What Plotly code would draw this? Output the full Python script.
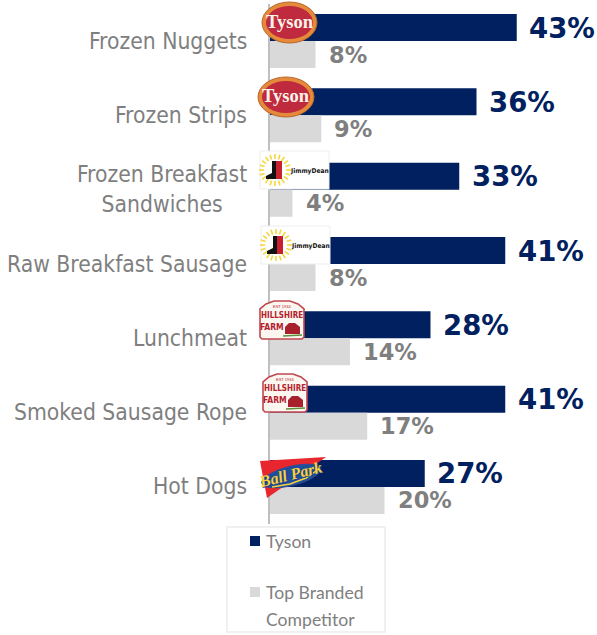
import numpy as np
import plotly.graph_objects as go

W, H = 597, 635

categories = ["Frozen Nuggets", "Frozen Strips", "Frozen Breakfast<br>Sandwiches",
              "Raw Breakfast Sausage", "Lunchmeat", "Smoked Sausage Rope", "Hot Dogs"]
tyson_share = [43, 36, 33, 41, 28, 41, 27]
competitor_share = [8, 9, 4, 8, 14, 17, 20]
series_names = ["Tyson", "Top Branded", "Competitor"]

NAVY = "#002060"
LIGHT = "#d9d9d9"
TEXT = "#7f7f7f"
AXIS = "#bfbfbf"
FONT = "DejaVu Sans"
FONT_NARROW = "DejaVu Sans Condensed"

PX_PER_UNIT = 5.75
X0 = 269.5
Y_TOP, Y_BOTTOM = 3.85, 524.15

shapes, notes = [], []


def fx(px):
    return px / W


def fy(py):
    return 1 - py / H


def add_shape(kind, x0, y0, x1, y1, fill=None, line=None, lw=0):
    shapes.append(dict(type=kind, xref="paper", yref="paper",
                       x0=fx(x0), y0=fy(y0), x1=fx(x1), y1=fy(y1),
                       fillcolor=fill, line=dict(color=line, width=lw), layer="above"))


def add_path(points, fill=None, line=None, lw=0, close=True):
    d = "M" + " L".join(f"{fx(a):.5f},{fy(b):.5f}" for a, b in points) + (" Z" if close else "")
    shapes.append(dict(type="path", xref="paper", yref="paper", path=d,
                       fillcolor=fill, line=dict(color=line, width=lw), layer="above"))


def add_text(x, y, text, size, color, family=FONT, bold=False, italic=False, angle=0,
             anchor="center", align="center", shadow=None):
    font = dict(family=family, size=size, color=color,
                weight="bold" if bold else "normal",
                style="italic" if italic else "normal")
    if shadow:
        font["shadow"] = shadow
    notes.append(dict(xref="paper", yref="paper", x=fx(x), y=fy(y), text=text, font=font,
                      showarrow=False, xanchor=anchor, yanchor="middle", align=align,
                      textangle=angle, borderpad=0))


def tyson_logo(x0, y0, x1, y1):
    add_shape("circle", x0, y0, x1, y1, fill="#e58a3a", line="#b9662a", lw=1)
    add_shape("circle", x0 + 4, y0 + 4, x1 - 4, y1 - 4, fill="#bf2a3e")
    add_text((x0 + x1) / 2, (y0 + y1) / 2 - 1, "Tyson", 18.5, "#fbf3ea",
             family="Liberation Serif", bold=True)


def jimmy_logo(x0, y0):
    add_shape("rect", x0, y0, x0 + 69, y0 + 38, fill="white", line="#eeeeee", lw=1)
    cx, cy = x0 + 15, y0 + 19
    for a in np.linspace(0, 2 * np.pi, 20, endpoint=False):
        add_path([(cx + 11 * np.cos(a), cy + 11 * np.sin(a)),
                  (cx + 16 * np.cos(a), cy + 16 * np.sin(a))],
                 line="#f5d63d", lw=1.6, close=False)
    add_shape("rect", cx + 1, cy - 9, cx + 7, cy + 9, fill="#c8202f")
    add_path([(cx - 3, cy - 9), (cx + 1, cy - 9), (cx + 1, cy + 9), (cx - 9, cy + 9),
              (cx - 9, cy + 6), (cx - 3, cy + 3)], fill="#111111")
    add_text(x0 + 49.5, y0 + 20, "JimmyDean", 6.6, "#111111", family=FONT_NARROW, bold=True)


def hillshire_logo(x0, y0):
    w, h = 44, 39
    outline = [(x0, y0 + h - 2), (x0, y0 + 9), (x0 + 6, y0 + 4), (x0 + 14, y0 + 1), (x0 + 30, y0 + 1),
               (x0 + 38, y0 + 4), (x0 + w, y0 + 9), (x0 + w, y0 + h - 2), (x0 + w - 2, y0 + h),
               (x0 + 2, y0 + h), ]
    add_path(outline, fill="#fbf6f0", line="#c0474f", lw=1.6)
    add_text(x0 + 22, y0 + 6, "EST 1934", 4, "#b5202c", family="Liberation Sans")
    add_text(x0 + 22, y0 + 15.5, "HILLSHIRE", 8, "#b5202c", family=FONT_NARROW, bold=True)
    add_text(x0 + 12, y0 + 27, "FARM", 8.5, "#b5202c", family=FONT_NARROW, bold=True)
    bx = x0 + 25
    add_path([(bx, y0 + 34), (bx, y0 + 27), (bx + 4, y0 + 23), (bx + 10, y0 + 23),
              (bx + 15, y0 + 27), (bx + 15, y0 + 34)], fill="#a8202c")
    add_path([(x0 + 23, y0 + 36), (x0 + 42, y0 + 35)], line="#5c8f3a", lw=1.5, close=False)


def ballpark_logo():
    add_path([(260, 461), (326, 457), (267, 498)], fill="#e8262d")
    t = np.linspace(0, 2 * np.pi, 48)
    cx, cy, rx, ry, rot = 291, 476, 30, 9.5, np.radians(-14)
    add_path([(cx + rx * np.cos(a) * np.cos(rot) - ry * np.sin(a) * np.sin(rot),
               cy + rx * np.cos(a) * np.sin(rot) + ry * np.sin(a) * np.cos(rot)) for a in t],
             fill="#1f4e9c", line="#2c4f95", lw=1)
    add_path([(272, 487), (290, 484), (306, 478), (319, 469)], line="#f7d23c", lw=1.5, close=False)
    add_text(290, 474, "Ball Park", 16, "#f7d23c", family="Liberation Serif", bold=True,
             italic=True, angle=-14, shadow="1px 1px 0 #1f3f86")


fig = go.Figure()
fig.add_bar(y=categories, x=tyson_share, name="Tyson", orientation="h",
            marker=dict(color=NAVY, line=dict(width=0)))
fig.add_bar(y=categories, x=competitor_share, name="Top Branded Competitor", orientation="h",
            marker=dict(color=LIGHT, line=dict(width=0)))

# Category captions, centred on their own lines and right-aligned as a block
for cat in categories:
    notes.append(dict(xref="x", yref="y", x=0, y=cat, xshift=-21.5, yshift=0.5, text=cat, showarrow=False,
                      xanchor="right", align="center", borderpad=0,
                      font=dict(family=FONT_NARROW, size=22.7, color=TEXT)))

# Value captions sit just past the end of each bar
for cat, a, b in zip(categories, tyson_share, competitor_share):
    notes.append(dict(xref="x", yref="y", x=a, y=cat, xshift=11.5, yshift=13.5, text=f"{a}%",
                      showarrow=False, xanchor="left", borderpad=0,
                      font=dict(family=FONT, size=27.5, color=NAVY, weight="bold")))
    notes.append(dict(xref="x", yref="y", x=b, y=cat, xshift=12, yshift=-13.5, text=f"{b}%",
                      showarrow=False, xanchor="left", borderpad=0,
                      font=dict(family=FONT, size=22.5, color=TEXT, weight="bold")))

# Brand badges over the start of the bars
tyson_logo(262, 2, 317, 43)
tyson_logo(258, 77, 314, 117)
jimmy_logo(260, 151)
jimmy_logo(261, 226)
hillshire_logo(260, 300)
hillshire_logo(263, 373)
ballpark_logo()

# Key box
add_shape("rect", 227, 527, 385, 632, fill="white", line="#f0f0f0", lw=2)
add_shape("rect", 250, 536, 260, 546, fill=NAVY)
add_shape("rect", 250, 587, 260, 597, fill=LIGHT)
add_text(265, 541, series_names[0], 17.6, TEXT, family="Lato", anchor="left")
add_text(265, 592, series_names[1], 17.6, TEXT, family="Lato", anchor="left")
add_text(265, 619, series_names[2], 17.6, TEXT, family="Lato", anchor="left")

fig.update_layout(
    width=W, height=H, autosize=False, margin=dict(l=0, r=0, t=0, b=0),
    paper_bgcolor="white", plot_bgcolor="white", showlegend=False,
    barmode="group", bargap=0.273, bargroupgap=0,
    shapes=shapes, annotations=notes,
    xaxis=dict(domain=[X0 / W, 1], range=[0, (W - X0) / PX_PER_UNIT], visible=True,
               showgrid=False, zeroline=False, showticklabels=False, ticks=""),
    yaxis=dict(domain=[1 - Y_BOTTOM / H, 1 - Y_TOP / H], range=[6.5, -0.5], showgrid=False,
               zeroline=False, showticklabels=False, ticks="", showline=True,
               linecolor=AXIS, linewidth=2),
)

fig.write_html("out.html", config=dict(displayModeBar=False))
